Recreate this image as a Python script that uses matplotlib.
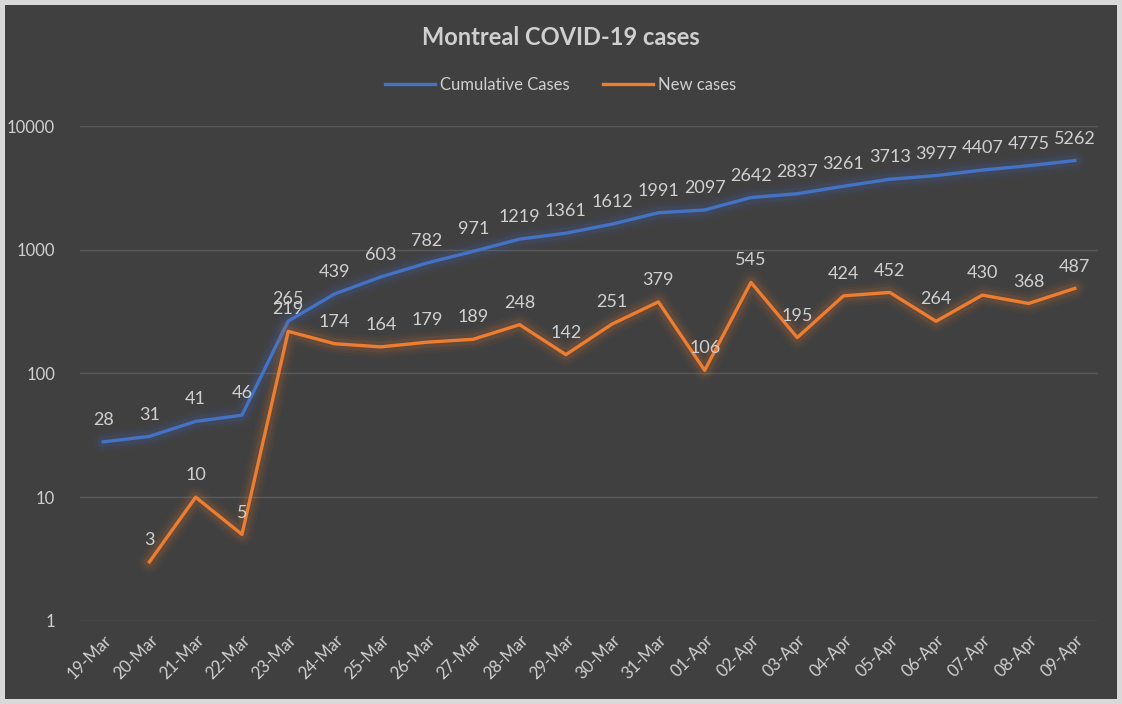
import matplotlib.pyplot as plt
import numpy as np

dates = ["19-Mar", "20-Mar", "21-Mar", "22-Mar", "23-Mar", "24-Mar", "25-Mar", "26-Mar",
         "27-Mar", "28-Mar", "29-Mar", "30-Mar", "31-Mar", "01-Apr", "02-Apr", "03-Apr",
         "04-Apr", "05-Apr", "06-Apr", "07-Apr", "08-Apr", "09-Apr"]
cumulative = [28, 31, 41, 46, 265, 439, 603, 782, 971, 1219, 1361, 1612, 1991, 2097,
              2642, 2837, 3261, 3713, 3977, 4407, 4775, 5262]
new_cases = [np.nan, 3, 10, 5, 219, 174, 164, 179, 189, 248, 142, 251, 379, 106,
             545, 195, 424, 452, 264, 430, 368, 487]

bg = '#404040'
txt = '#d0d0d0'
blue = '#4472c4'
orange = '#ed7d31'

plt.rcParams['font.family'] = ['Lato', 'DejaVu Sans']

fig = plt.figure(figsize=(11.22, 7.04), dpi=100, facecolor=bg,
                 edgecolor='#d9d9d9', linewidth=6)
ax = fig.add_axes([0.0713, 0.118, 0.9073, 0.703])
ax.set_facecolor(bg)

x = np.arange(len(dates))

def glow_line(values, color, label):
    for lw, a in [(16, 0.04), (12, 0.06), (8, 0.1)]:
        ax.plot(x, values, color=color, lw=lw, alpha=a, solid_capstyle='round',
                solid_joinstyle='round')
    ax.plot(x, values, color=color, lw=2.4, label=label, solid_joinstyle='round')
    for xi, v in zip(x, values):
        if np.isnan(v):
            continue
        ax.annotate(f'{int(v)}', (xi, v), xytext=(0, 10), textcoords='offset points',
                    ha='center', va='bottom', color=txt, fontsize=13)

glow_line(cumulative, blue, 'Cumulative Cases')
glow_line(new_cases, orange, 'New cases')

ax.set_yscale('log')
ax.set_ylim(1, 10000)
ax.set_xlim(-0.5, len(dates) - 0.5)
ax.set_yticks([1, 10, 100, 1000, 10000])
ax.set_yticklabels(['1', '10', '100', '1000', '10000'])
ax.minorticks_off()
ax.yaxis.grid(True, color='#5a5a5a', lw=1)
ax.set_axisbelow(True)
ax.set_xticks(x)
ax.set_xticklabels(dates, rotation=45, ha='right', rotation_mode='anchor')
ax.tick_params(colors=txt, labelsize=12, length=0)
ax.tick_params(axis='y', pad=18)
ax.tick_params(axis='x', pad=8)
for s in ax.spines.values():
    s.set_visible(False)

fig.text(0.5, 0.947, 'Montreal COVID-19 cases', ha='center', va='center',
         color=txt, fontsize=17, fontweight='bold')
leg = fig.legend(loc='center', bbox_to_anchor=(0.5, 0.879), ncol=2, frameon=False,
                 fontsize=12, labelcolor=txt, handlelength=3, handletextpad=0.3,
                 columnspacing=2)

fig.savefig('out.png', dpi=100, facecolor=bg, edgecolor='#d9d9d9')
